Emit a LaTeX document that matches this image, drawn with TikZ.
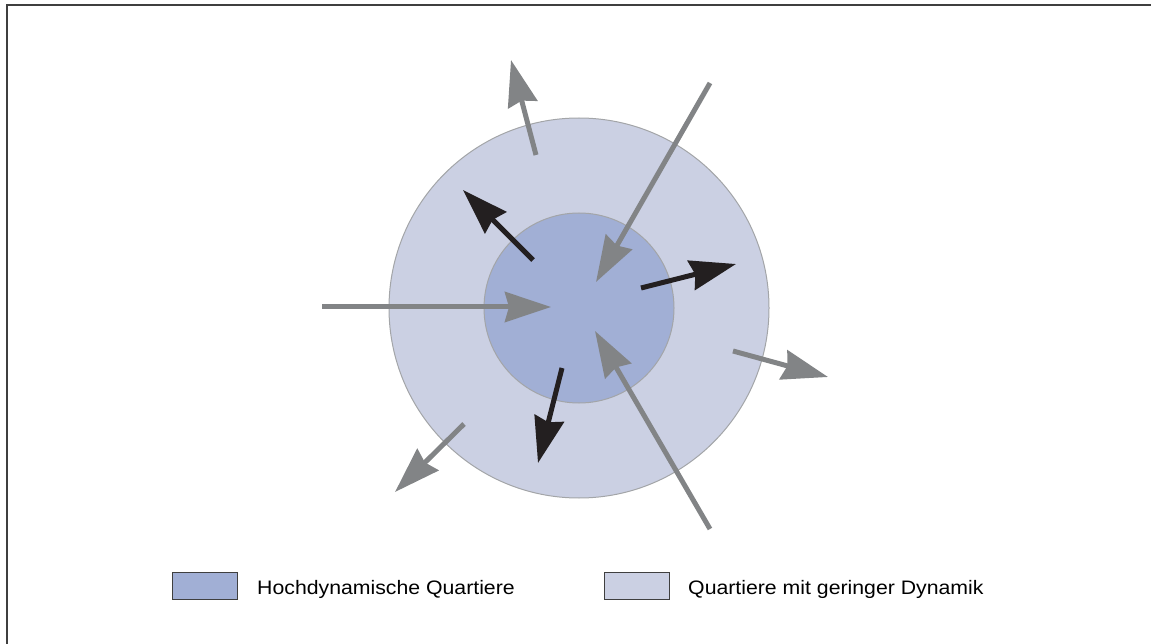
\documentclass[tikz,border=0pt]{standalone}
\usepackage{fontspec}
\setmainfont{Liberation Sans}
\usetikzlibrary{arrows.meta}
\definecolor{outerfill}{HTML}{CBD0E3}
\definecolor{innerfill}{HTML}{A1AFD5}
\definecolor{ringline}{HTML}{A3A5A8}
\definecolor{grayarrow}{HTML}{828486}
\definecolor{blackarrow}{HTML}{231F20}
\definecolor{framecol}{HTML}{3F3F3F}
\tikzset{
  arr/.style={line width=5pt, -{Stealth[length=46pt, width=30pt, inset=4pt]}},
  grayarr/.style={arr, draw=grayarrow},
  blackarr/.style={arr, draw=blackarrow},
  legbox/.style={draw=framecol, line width=1pt, minimum width=65pt, minimum height=27pt, inner sep=0pt},
  legtext/.style={anchor=base west, inner sep=0pt, font=\fontsize{19.5pt}{23pt}\selectfont, xscale=1.09}
}
\begin{document}
\begin{tikzpicture}[x=1pt, y=-1pt]
\useasboundingbox (0,0) rectangle (1151,644);
\draw[framecol, line width=1.5pt] (7,700) -- (7,5) -- (1200,5);
% circles
\node[circle, fill=outerfill, draw=ringline, line width=1pt, minimum size=380pt, inner sep=0pt] (outer) at (579,308) {};
\node[circle, fill=innerfill, draw=ringline, line width=1pt, minimum size=190pt, inner sep=0pt] (inner) at (579,308) {};
% coordinates
\coordinate (g1s) at (322,307); \coordinate (g1e) at (551,307);
\coordinate (g2s) at (710,83);  \coordinate (g2e) at (596,282);
\coordinate (g3s) at (710,529); \coordinate (g3e) at (595,331);
\coordinate (g4s) at (536,155); \coordinate (g4e) at (511,60);
\coordinate (g5s) at (464,424); \coordinate (g5e) at (395,492);
\coordinate (g6s) at (733,351); \coordinate (g6e) at (828,377);
\coordinate (b1s) at (533,260); \coordinate (b1e) at (463,190);
\coordinate (b2s) at (641,288); \coordinate (b2e) at (736,264);
\coordinate (b3s) at (562,368); \coordinate (b3e) at (538,463);
% gray arrows
\draw[grayarr] (g1s) -- (g1e);
\draw[grayarr] (g2s) -- (g2e);
\draw[grayarr] (g3s) -- (g3e);
\draw[grayarr] (g4s) -- (g4e);
\draw[grayarr] (g5s) -- (g5e);
\draw[grayarr] (g6s) -- (g6e);
% black arrows
\draw[blackarr] (b1s) -- (b1e);
\draw[blackarr] (b2s) -- (b2e);
\draw[blackarr] (b3s) -- (b3e);
% legend
\node[legbox, fill=innerfill] (leg1) at (204.5,585.5) {};
\node[legtext] (leg1t) at (257,594) {Hochdynamische Quartiere};
\node[legbox, fill=outerfill] (leg2) at (637,585.5) {};
\node[legtext] (leg2t) at (688,594) {Quartiere mit geringer Dynamik};
\end{tikzpicture}
\end{document}
